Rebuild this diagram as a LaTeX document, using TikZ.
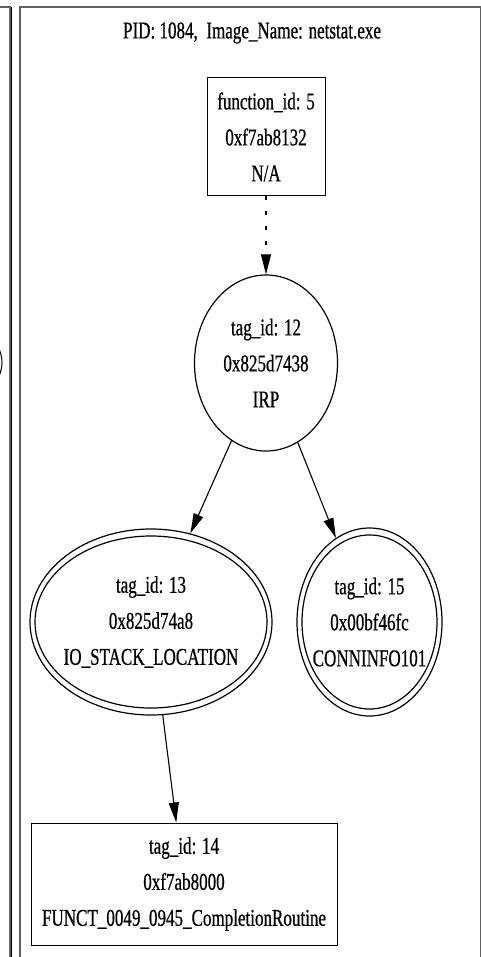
\documentclass[tikz,border=0pt]{standalone}
\usepackage{fontspec}
\setmainfont{Liberation Serif}[FakeStretch=0.71, FakeBold=0.6]
\usetikzlibrary{shapes, arrows.meta, positioning}

\definecolor{framegray}{RGB}{95,95,95}

\tikzset{
  lbl/.style={font=\fontsize{24}{36}\selectfont, align=center, inner sep=0pt},
  fbox/.style={draw, rectangle, line width=1pt, inner sep=0pt},
  tagell/.style={draw, ellipse, line width=1.2pt, inner sep=0pt},
  edge/.style={line width=1.1pt, -{Triangle[length=20pt,width=10pt]}},
  frame/.style={line width=2pt, draw=framegray},
}

\begin{document}
\begin{tikzpicture}[x=1pt,y=-1pt]
  \useasboundingbox (0,0) rectangle (481,957);
  % neighbour cluster, cut off at the left
  \draw[frame] (0,7) -- (9.5,7) -- (9.5,970);
  \draw[line width=1pt] (11,7) -- (11,970);
  \draw[line width=1pt] (-1,349) .. controls (3,358) and (3,367) .. (-1,376);
  % this cluster
  \draw[frame] (20,970) -- (20,7) -- (481,7) -- (481,970);
  \node[lbl] (title) at (252,33) {PID: 1084,\ \ Image\_Name: netstat.exe};

  \node[fbox, lbl, minimum width=118pt, minimum height=118pt] (f5) at (266,137)
    {function\_id: 5\\0xf7ab8132\\N/A};

  \node[tagell, minimum width=143pt, minimum height=176pt] (t12) at (266,363) {};
  \node[lbl] (t12txt) at (t12) {tag\_id: 12\\0x825d7438\\IRP};

  \node[tagell, minimum width=242pt, minimum height=186pt] (t13) at (151,622) {};
  \draw[line width=1.2pt] (t13.center) ellipse [x radius=116pt, y radius=86pt];
  \node[lbl] (t13txt) at (t13) {tag\_id: 13\\0x825d74a8\\IO\_STACK\_LOCATION};

  \node[tagell, minimum width=145pt, minimum height=188pt] (t15) at (369.5,622) {};
  \draw[line width=1.2pt] (t15.center) ellipse [x radius=67.5pt, y radius=87pt];
  \node[lbl] (t15txt) at (t15) {tag\_id: 15\\0x00bf46fc\\CONNINFO101};

  \node[fbox, lbl, minimum width=306pt, minimum height=122pt] (t14) at (184,884)
    {tag\_id: 14\\0xf7ab8000\\FUNCT\_0049\_0945\_CompletionRoutine};

  % edges
  \draw[edge, dash pattern=on 4pt off 11pt] (f5) -- (t12);
  \draw[edge] (t12) -- (t13);
  \draw[edge] (t12) -- (t15);
  \draw[edge] (t13) -- (t14);
\end{tikzpicture}
\end{document}
